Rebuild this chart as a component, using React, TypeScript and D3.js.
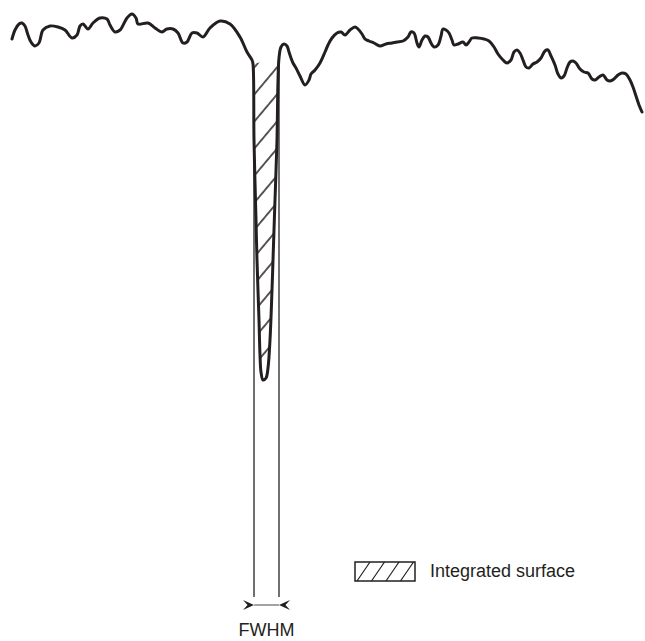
import React from 'react';
import * as d3 from 'd3';

// spectrum: wavelength (arb. nm) and relative intensity (%)
const wavelength = [
  500.5, 501.25, 502.25, 503, 503.75, 504.5, 505.25, 506.25, 507.25, 508.25, 510, 512, 513.75, 515.5, 516.75,
  517.5, 518.25, 519.5, 520.75, 522.5, 524.25, 525, 526.25, 527.5, 529.25, 530.5, 531.5, 532, 534.5, 536.25,
  538, 539.25, 540.75, 542, 543.25, 544.25, 545.5, 546.75, 548.25, 550, 552.5, 555, 557.5, 559.25, 560.5,
  560.75, 561, 561.5, 561.75, 562.25, 562.5, 562.75, 563.25, 564, 564.5, 565, 565.5, 565.75, 566.25, 566.75,
  567, 567.25, 567.75, 568.5, 569.25, 569.75, 570.25, 570.75, 571.5, 572.5, 573.75, 574.75, 575.25, 576.25,
  577.5, 578.75, 579.5, 580.5, 581.75, 582.75, 583.75, 585, 586.25, 587, 588, 588.75, 589.75, 591, 592.5, 594,
  595.5, 596.75, 598.25, 599.5, 600.25, 601, 601.75, 602.25, 603, 603.75, 604.5, 605.25, 606, 607, 607.75,
  608.25, 609, 609.75, 610.5, 611, 612, 613.25, 614, 614.75, 615.5, 617, 618.5, 619.75, 621, 622, 623.25,
  624.25, 625.25, 626, 626.75, 627.5, 628.25, 629, 629.75, 630.75, 631.75, 632.75, 633.75, 634.5, 635.25,
  636.25, 637, 637.75, 638.5, 639.25, 640, 640.75, 641.5, 642.5, 643.5, 644.5, 645.5, 646.25, 647.25, 648.25,
  649.25, 650, 651, 652, 653, 654, 655, 655.75, 656.5, 657.25, 658,
];
const intensity = [
  90.25, 92.5, 94, 94.25, 93.5, 91.25, 89.5, 88.5, 89.25, 92.5, 93.5, 93.25, 92.5, 90.5, 91.25,
  93.5, 94, 92.75, 94.25, 95.5, 95.25, 93.75, 92, 92.5, 95.5, 96.5, 95.5, 94, 94.25, 93,
  92, 92.75, 92.75, 91.75, 89.25, 89.5, 91.75, 91.75, 90.75, 93, 94.75, 94, 90.75, 87, 85,
  84, 65, 45, 35, 20, 11.25, 7, 5, 5.5, 8, 15, 27.5, 35, 50, 65,
  80, 85.5, 88.25, 89, 88.5, 87, 85.5, 84.25, 83, 81, 78.75, 80, 81.5, 82.5,
  84.25, 87, 88.75, 90.5, 91.75, 92, 91.25, 92.5, 93.25, 92.75, 91.5, 90.25, 89.75, 89.25, 88.5, 89,
  89.25, 89.5, 89.75, 90.75, 92, 91.75, 89.25, 88.25, 90, 91, 90.75, 89.25, 88.25, 88.75, 91,
  92.75, 92.5, 91.75, 90, 88.75, 89, 89.5, 88.75, 89.5, 90.5, 90.5, 90.25, 89.75, 88.25, 86.5, 85,
  84.25, 85, 87, 87.5, 86.75, 85, 83.25, 83, 84, 84.5, 85.5, 87.25, 87.5, 86,
  83.75, 81.5, 80.5, 81, 83, 84.5, 84.75, 84.25, 82.75, 82, 81.75, 80.25, 80, 80.75, 81.25,
  80, 79.75, 80.25, 81.25, 81.75, 81.5, 80, 78.25, 76, 73.75, 72,
];

// absorption line limits (hatched area) and full width at half maximum
const lineStart = 560.75;
const lineEnd = 567.25;
const fwhm = [561, 567.25];

const legendLabel = 'Integrated surface';
const fwhmLabel = 'FWHM';

const ink = '#231f20';

export default function App() {
  const width = 645;
  const height = 641;

  const x = d3.scaleLinear().domain([500, 660]).range([10, 650]);
  const y = d3.scaleLinear().domain([0, 100]).range([400, 0]);

  const data = wavelength.map((w, i) => ({ w, v: intensity[i] }));
  const dip = data.filter(d => d.w >= lineStart && d.w <= lineEnd);

  const line = d3.line<{ w: number; v: number }>()
    .x(d => x(d.w))
    .y(d => y(d.v))
    .curve(d3.curveCatmullRom.alpha(0.5));

  const topOf = (w: number) => {
    const d = data.find(p => p.w === w);
    return d ? y(d.v) : y(85);
  };

  const bottom = 597;
  const arrowY = 605;
  const [xl, xr] = fwhm.map(w => x(w));

  // chevron-like arrow head, tip at (tx, arrowY), dir = +1 pointing right
  const head = (tx: number, dir: number) => {
    const b = tx - dir * 11;
    const n = tx - dir * 6.5;
    return `${tx},${arrowY} ${b},${arrowY - 5} ${n},${arrowY} ${b},${arrowY + 5}`;
  };

  return (
    <svg width={width} height={height} style={{ position: 'absolute', left: 0, top: 0 }}
      fontFamily="'Liberation Sans', Arial, sans-serif">
      <defs>
        <pattern id="hatch" patternUnits="userSpaceOnUse" width={8} height={17.4}
          patternTransform="translate(0,5) rotate(-50)">
          <line x1={0} y1={8.7} x2={8} y2={8.7} stroke={ink} strokeWidth={1.5} />
        </pattern>
      </defs>

      {/* hatched integrated surface */}
      <path d={line(dip) + 'Z'} fill="url(#hatch)" stroke="none" />

      {/* FWHM guide lines */}
      <line x1={xl} x2={xl} y1={topOf(fwhm[0])} y2={bottom} stroke="#333" strokeWidth={1.4} />
      <line x1={xr} x2={xr} y1={topOf(fwhm[1])} y2={bottom} stroke="#333" strokeWidth={1.4} />

      {/* spectrum */}
      <path d={line(data) || ''} fill="none" stroke={ink} strokeWidth={3}
        strokeLinejoin="round" strokeLinecap="round" />

      {/* FWHM arrows */}
      <line x1={xl} x2={xr} y1={arrowY} y2={arrowY} stroke="#666" strokeWidth={1.2} />
      <polygon fill={ink} points={head(xl, 1)} />
      <polygon fill={ink} points={head(xr, -1)} />
      <text x={(xl + xr) / 2} y={636} textAnchor="middle" fontSize={18} fill={ink}>{fwhmLabel}</text>

      {/* legend */}
      <g transform="translate(355,562)">
        <rect x={0} y={0} width={60} height={19} fill="none" stroke={ink} strokeWidth={1.5} />
        {d3.range(4).map(i => (
          <line key={i} x1={2 + i * 14.5} y1={19} x2={15 + i * 14.5} y2={0} stroke={ink} strokeWidth={1.2} />
        ))}
        <text x={75} y={15} fontSize={18} fill={ink}>{legendLabel}</text>
      </g>
    </svg>
  );
}
